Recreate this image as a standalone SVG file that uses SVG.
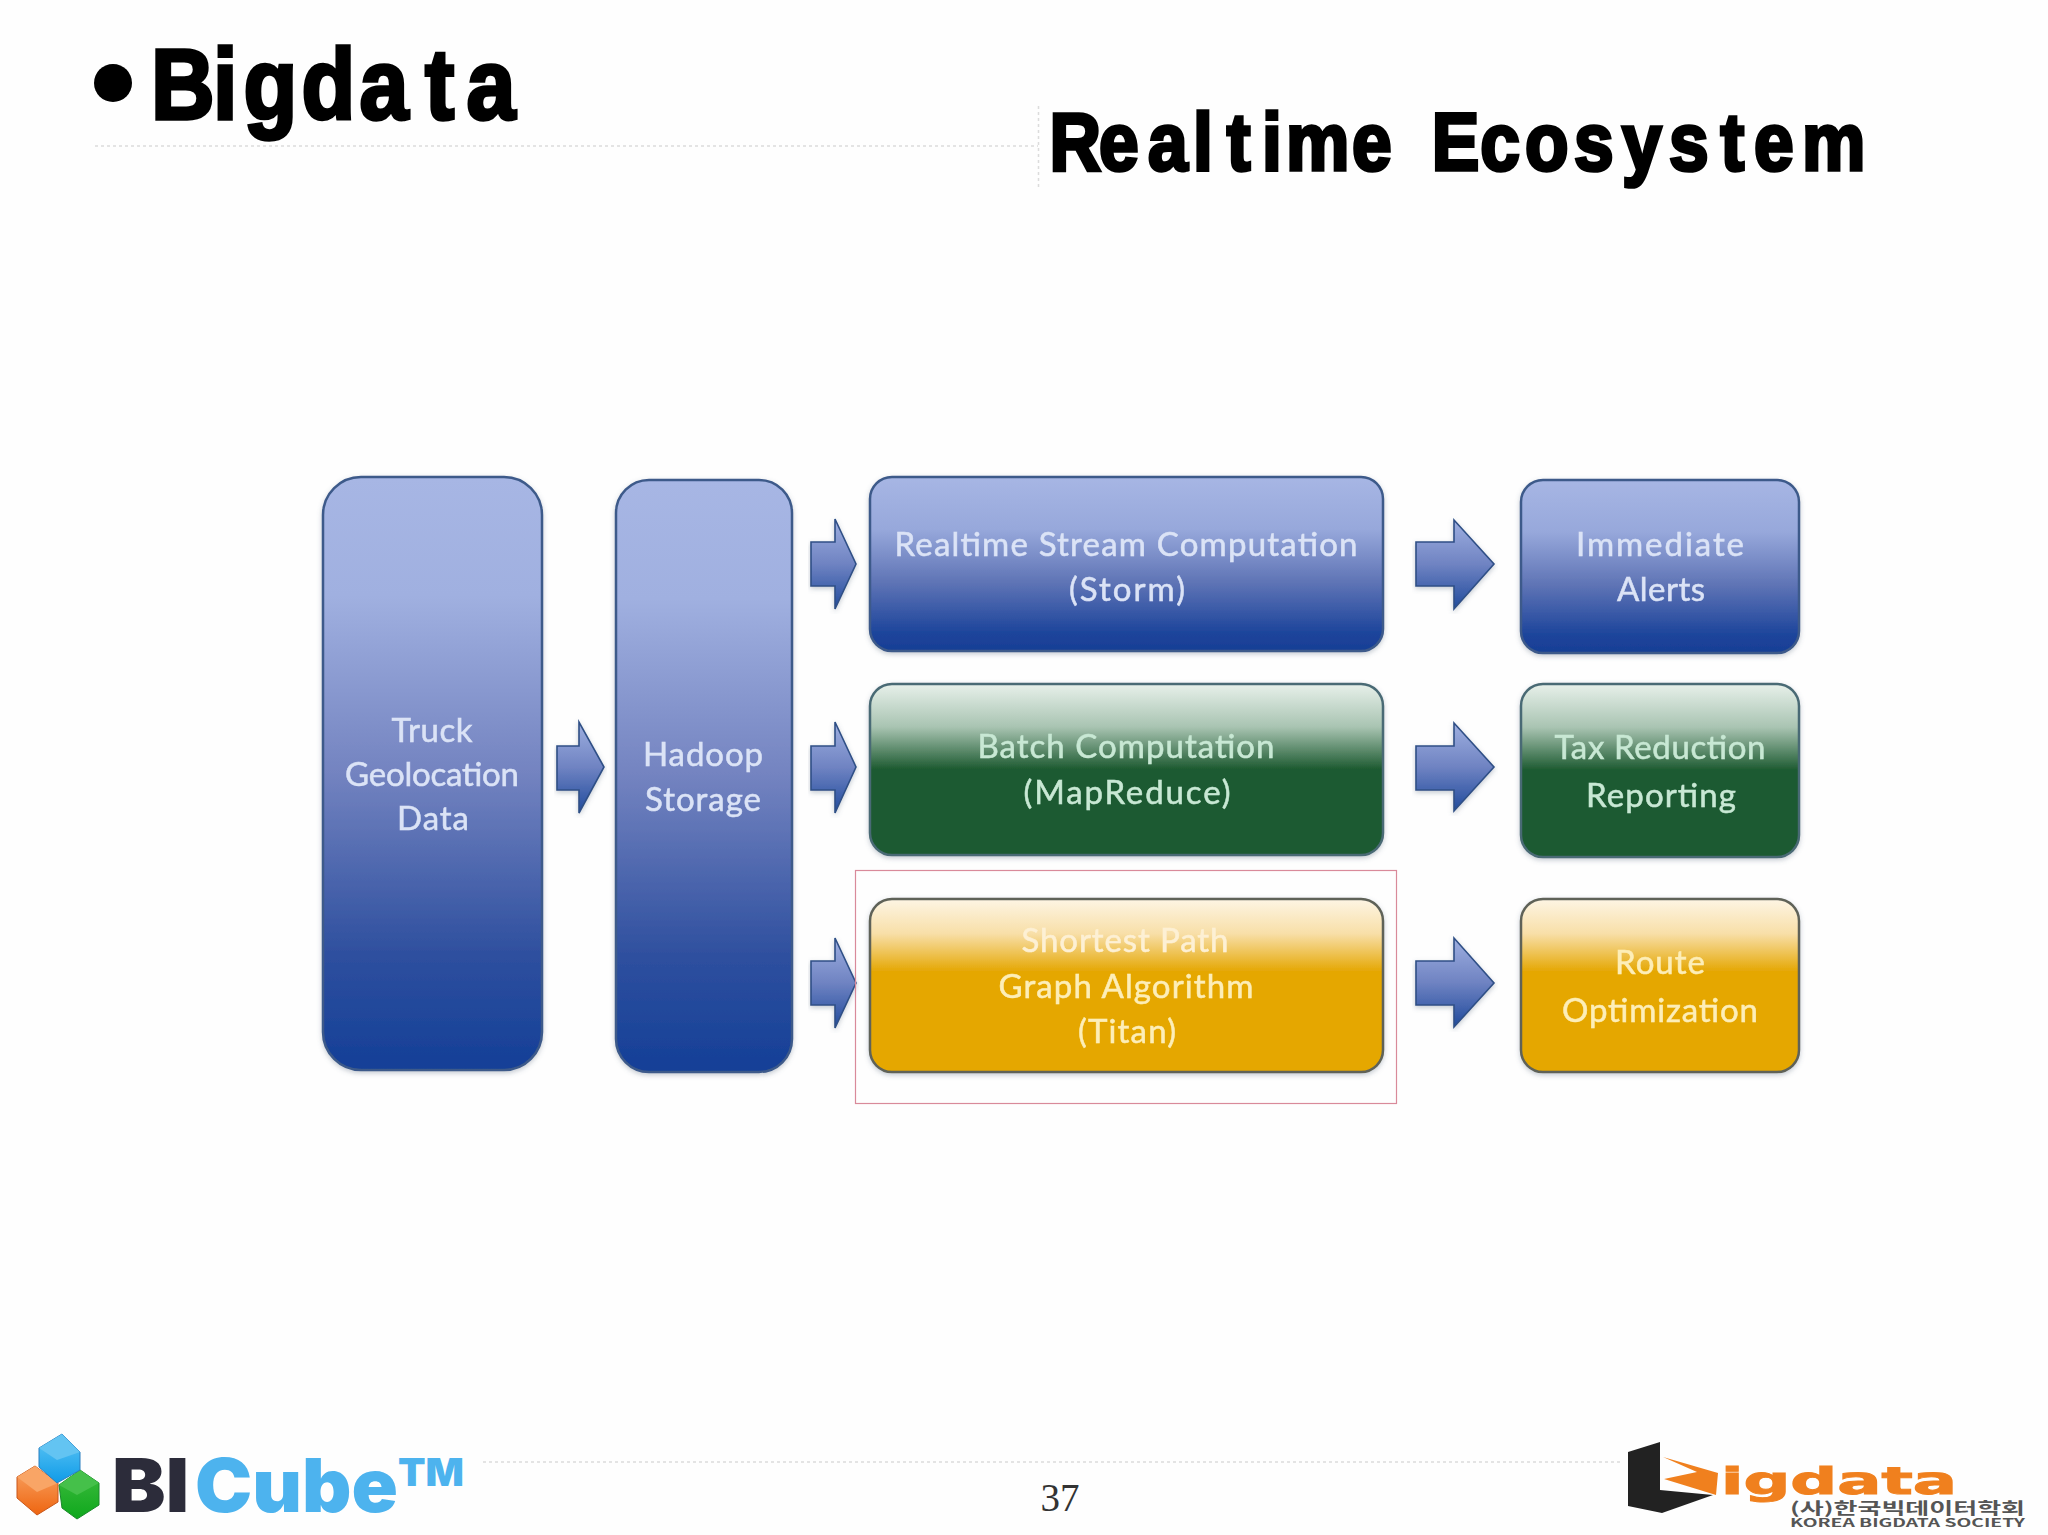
<svg xmlns="http://www.w3.org/2000/svg" width="2048" height="1535" viewBox="0 0 2048 1535">
<style>
.title{font-family:"Liberation Sans",Arial,sans-serif;font-weight:700;fill:#000;stroke:#000;stroke-width:3.6px}
.lbl{font-family:Lato,"Open Sans",sans-serif;font-size:33px;text-anchor:middle;stroke-width:.5px;filter:url(#soft)}
.b{fill:#dbe3f6;stroke:#dbe3f6}.g{fill:#c8e8d4;stroke:#c8e8d4}.y{fill:#fdeeb8;stroke:#fdeeb8}.p{fill:#fdf0d4;stroke:#fdf0d4}
.box{stroke-width:2.5px;filter:url(#shadow)}
.sb{stroke:#3d5a8a}.sg{stroke:#4a6a74}.sy{stroke:#5f6258}
.rule{stroke:#dcdcdc;stroke-width:1.5px;stroke-dasharray:3 3;fill:none}
.arrow{fill:url(#arrowGrad);stroke:#2f4f86;stroke-width:1.6px;filter:url(#shadow)}
.logo{font-family:Inter,"Liberation Sans",sans-serif;font-weight:900;font-size:74px}
.bd{font-family:"DejaVu Sans",sans-serif;font-weight:700;fill:#f0801e;stroke:#f0801e;stroke-width:1px}
.kr{font-family:"Noto Sans CJK KR","DejaVu Sans",sans-serif;font-weight:700;fill:#555}
</style>
<defs>
<filter id="soft" x="-5%" y="-20%" width="110%" height="140%"><feGaussianBlur stdDeviation="0.6"/></filter>
<filter id="shadow" x="-5%" y="-5%" width="110%" height="110%"><feDropShadow dx="0" dy="2" stdDeviation="2.5" flood-color="#5a6a80" flood-opacity="0.35"/></filter>
<linearGradient id="tall" x1="0" y1="0" x2="0" y2="1"><stop offset="0" stop-color="#a7b6e4"/><stop offset=".2" stop-color="#a0b0e0"/><stop offset=".5" stop-color="#7383c0"/><stop offset=".8" stop-color="#2f509f"/><stop offset="1" stop-color="#143f97"/></linearGradient>
<linearGradient id="blue" x1="0" y1="0" x2="0" y2="1"><stop offset="0" stop-color="#a7b6e4"/><stop offset=".3" stop-color="#97a8db"/><stop offset=".6" stop-color="#6075b6"/><stop offset=".9" stop-color="#1c449b"/><stop offset="1" stop-color="#183f95"/></linearGradient>
<linearGradient id="green" x1="0" y1="0" x2="0" y2="1"><stop offset="0" stop-color="#e7f0ea"/><stop offset=".25" stop-color="#a9c4b2"/><stop offset=".5" stop-color="#1c5a30"/><stop offset="1" stop-color="#1b5a30"/></linearGradient>
<linearGradient id="yellow" x1="0" y1="0" x2="0" y2="1"><stop offset="0" stop-color="#fdf5e4"/><stop offset=".2" stop-color="#f8dfa8"/><stop offset=".42" stop-color="#e5a703"/><stop offset="1" stop-color="#e5a703"/></linearGradient>
<linearGradient id="arrowGrad" x1="0" y1="0" x2="0" y2="1"><stop offset="0" stop-color="#9eafe0"/><stop offset=".5" stop-color="#6f83c2"/><stop offset="1" stop-color="#1f4a9c"/></linearGradient>
<linearGradient id="cB" x1="0" y1="0" x2="0" y2="1"><stop offset="0" stop-color="#62c8f5"/><stop offset="1" stop-color="#0f9be8"/></linearGradient>
<linearGradient id="cO" x1="0" y1="0" x2="0" y2="1"><stop offset="0" stop-color="#f9a566"/><stop offset="1" stop-color="#ee6510"/></linearGradient>
<linearGradient id="cG" x1="0" y1="0" x2="0" y2="1"><stop offset="0" stop-color="#3fbb3f"/><stop offset="1" stop-color="#0ea81c"/></linearGradient>
</defs>
<rect width="2048" height="1535" fill="#fefefe"/>

<g id="header">
<ellipse cx="113" cy="83" rx="19" ry="19" fill="#000"/>
<text class="title" font-size="100" y="119" transform="scale(.88 1)" x="171.6 242 276.7 342.6 408.5 483 530">Bigdata</text>
<text class="title" font-size="81" y="170" transform="scale(.88 1)" x="1192.6 1248.9 1304.5 1355.7 1394 1434.1 1461.4 1536.4 1587.5 1627 1682 1733 1788.6 1843.2 1896.6 1955 1993.2 2047.7">Realtime Ecosystem</text>
<line class="rule" x1="95" y1="146" x2="1038" y2="146"/>
<line class="rule" x1="1038.5" y1="106" x2="1038.5" y2="190"/>
<line class="rule" x1="483" y1="1462" x2="1620" y2="1462"/>
</g>

<g id="connectors">
<polygon class="arrow" points="557,746 579,746 579,722 604,767 579,813 579,790 557,790"/>
<polygon class="arrow" points="811,542 835,542 835,519 856,564 835,609 835,586 811,586"/>
<polygon class="arrow" points="811,746 835,746 835,722 856,767 835,813 835,790 811,790"/>
<polygon class="arrow" points="811,961 835,961 835,938 856,983 835,1028 835,1005 811,1005"/>
<polygon class="arrow" points="1416,542 1454,542 1454,520 1494,564 1454,609 1454,586 1416,586"/>
<polygon class="arrow" points="1416,746 1454,746 1454,723 1494,767 1454,811 1454,790 1416,790"/>
<polygon class="arrow" points="1416,961 1454,961 1454,938 1494,983 1454,1027 1454,1005 1416,1005"/>
</g>

<g id="truck"><rect class="box sb" x="323" y="477" width="219" height="593" rx="38" fill="url(#tall)"/>
<text class="lbl b" x="432" y="742" textLength="81">Truck</text><text class="lbl b" x="432" y="786" textLength="174">Geolocation</text><text class="lbl b" x="433" y="830" textLength="72">Data</text></g>
<g id="hadoop"><rect class="box sb" x="616" y="480" width="176" height="592" rx="33" fill="url(#tall)"/>
<text class="lbl b" x="703" y="766" textLength="120">Hadoop</text><text class="lbl b" x="703" y="811" textLength="116">Storage</text></g>
<g id="realtime"><rect class="box sb" x="870" y="477" width="513" height="174" rx="22" fill="url(#blue)"/>
<text class="lbl b" x="1126" y="556" textLength="463">Realtime Stream Computation</text><text class="lbl b" x="1127" y="601" textLength="116">(Storm)</text></g>
<g id="batch"><rect class="box sg" x="870" y="684" width="513" height="171" rx="22" fill="url(#green)"/>
<text class="lbl g" x="1126" y="758" textLength="297">Batch Computation</text><text class="lbl g" x="1127" y="804" textLength="207">(MapReduce)</text></g>
<g id="shortest"><rect class="box sy" x="870" y="899" width="513" height="173" rx="22" fill="url(#yellow)"/>
<text class="lbl p" x="1125" y="952" textLength="207">Shortest Path</text><text class="lbl y" x="1126" y="998" textLength="255">Graph Algorithm</text><text class="lbl y" x="1127" y="1043" textLength="98">(Titan)</text></g>
<rect id="highlight" x="855.5" y="870.5" width="541" height="233" fill="none" stroke="#d98a9a" stroke-width="1.2"/>
<g id="immediate"><rect class="box sb" x="1521" y="480" width="278" height="173" rx="22" fill="url(#blue)"/>
<text class="lbl b" x="1660" y="556" textLength="168">Immediate</text><text class="lbl b" x="1661" y="601" textLength="88">Alerts</text></g>
<g id="tax"><rect class="box sg" x="1521" y="684" width="278" height="173" rx="22" fill="url(#green)"/>
<text class="lbl g" x="1660" y="759" textLength="211">Tax Reduction</text><text class="lbl g" x="1661" y="807" textLength="150">Reporting</text></g>
<g id="route"><rect class="box sy" x="1521" y="899" width="278" height="173" rx="22" fill="url(#yellow)"/>
<text class="lbl y" x="1660" y="974" textLength="90">Route</text><text class="lbl y" x="1660" y="1022" textLength="196">Optimization</text></g>

<g id="footer">
<text x="1060" y="1511" font-family="Liberation Serif,serif" font-size="39" text-anchor="middle" fill="#333">37</text>
<g id="bicube">
<polygon points="35,1466 58,1483 58,1502 37,1515 17,1498 17,1477" fill="url(#cO)" stroke="#c9571a"/>
<polygon points="17,1477 35,1466 58,1483 37,1492" fill="#f9a566"/>
<polygon points="80,1470 99,1483 99,1505 77,1519 62,1508 59,1485" fill="url(#cG)" stroke="#1a8a2a"/>
<polygon points="59,1485 80,1470 99,1483 77,1495" fill="#45c04a"/>
<polygon points="62,1434 80,1452 80,1470 57,1483 39,1467 39,1448" fill="url(#cB)" stroke="#2a7fc0"/>
<polygon points="39,1448 62,1434 80,1452 57,1460" fill="#63c4f2"/>
<text class="logo" x="112" y="1512" fill="#2c2c3a" textLength="77" lengthAdjust="spacingAndGlyphs">BI</text>
<text class="logo" x="195" y="1512" fill="#4db3ee" textLength="203" lengthAdjust="spacingAndGlyphs">Cube</text>
<text class="logo" x="398" y="1486" fill="#4db3ee" style="font-size:39px" textLength="66" lengthAdjust="spacingAndGlyphs">TM</text>
</g>
<g id="bigdata-logo">
<polygon points="1628,1452 1660,1442 1660,1490 1713,1495 1662,1513 1628,1506" fill="#222"/>
<polygon points="1663,1457 1718,1473 1716,1495 1664,1479 1697,1472" fill="#f0801e"/>
<text class="bd" x="1721" y="1494" font-size="38" textLength="236" lengthAdjust="spacingAndGlyphs">igdata</text>
<text class="kr" x="1790" y="1514" font-size="16" textLength="235" lengthAdjust="spacingAndGlyphs">(사)한국빅데이터학회</text>
<text class="kr" x="1790" y="1527" font-size="11" textLength="235" lengthAdjust="spacingAndGlyphs">KOREA BIGDATA SOCIETY</text>
</g>
</g>
</svg>
